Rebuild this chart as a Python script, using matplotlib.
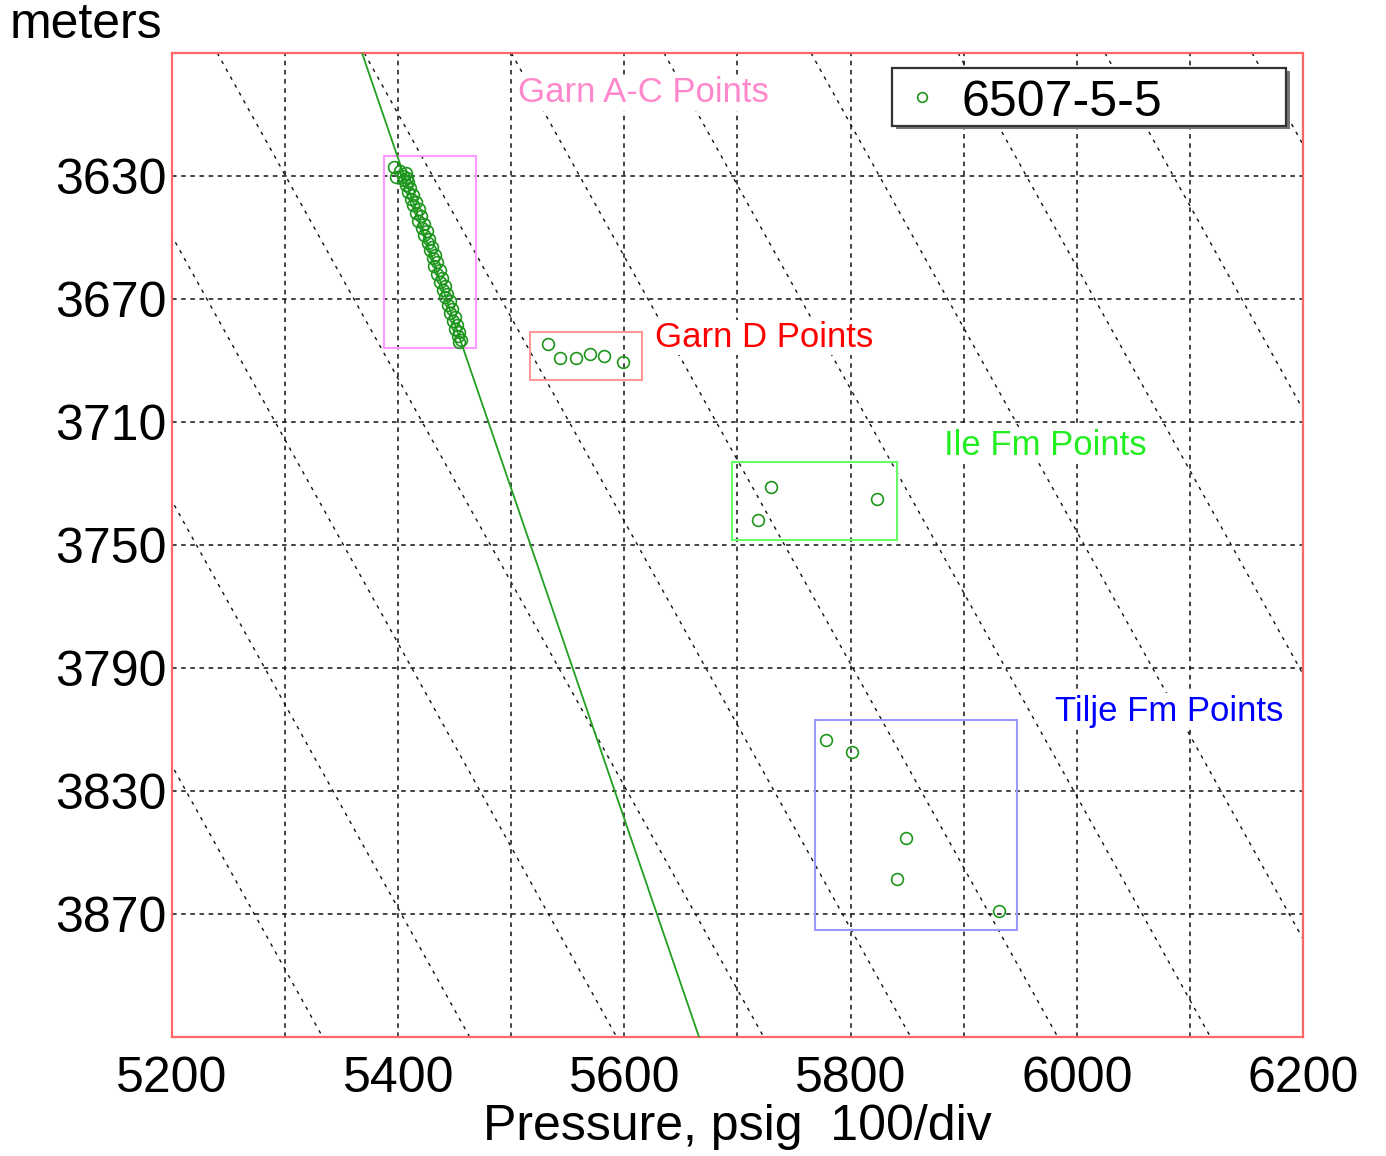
import matplotlib
matplotlib.use("Agg")
import matplotlib.pyplot as plt
from matplotlib.patches import Rectangle

plt.rcParams['font.family'] = ['Liberation Sans', 'DejaVu Sans']

# Garn A-C formation points (pressure psig, depth m)
garn_ac_p = [5396.5, 5398.0, 5402.0, 5406.5, 5404.0, 5408.2, 5405.5, 5409.0, 5407.0, 5410.8,
             5409.0, 5413.5, 5411.0, 5415.8, 5413.2, 5418.5, 5416.0, 5420.4, 5417.6, 5423.0,
             5421.2, 5425.5, 5422.4, 5427.6, 5426.0, 5430.2, 5428.1, 5432.5, 5430.4, 5434.6,
             5432.0, 5436.9, 5434.7, 5439.0, 5437.2, 5441.4, 5439.6, 5443.5, 5441.8, 5445.9,
             5444.0, 5447.8, 5446.0, 5450.1, 5448.7, 5452.0, 5450.5, 5453.8, 5452.6, 5455.4, 5454.0]
garn_ac_d = [3627.0, 3630.5, 3628.5, 3629.2, 3630.0, 3630.6, 3631.3, 3632.0, 3633.1, 3634.0,
             3635.2, 3636.1, 3637.4, 3638.5, 3639.6, 3640.8, 3642.0, 3643.1, 3644.5, 3645.6,
             3646.9, 3648.0, 3649.3, 3650.5, 3651.8, 3653.0, 3654.2, 3655.6, 3656.8, 3658.1,
             3659.3, 3660.6, 3661.9, 3663.2, 3664.4, 3665.7, 3667.0, 3668.3, 3669.5, 3670.8,
             3672.1, 3673.4, 3674.6, 3675.9, 3677.2, 3678.5, 3679.7, 3680.9, 3682.0, 3683.2, 3684.0]

garn_d_p = [5532.4, 5543.0, 5557.0, 5569.6, 5582.0, 5598.8]
garn_d_d = [3684.6, 3689.2, 3689.2, 3687.9, 3688.5, 3690.5]

ile_p = [5729.6, 5718.0, 5823.3]
ile_d = [3731.1, 3741.9, 3735.0]

tilje_p = [5778.3, 5801.2, 5849.0, 5841.0, 5931.2]
tilje_d = [3813.4, 3817.3, 3845.3, 3858.6, 3869.0]

# fitted gradient line through Garn A-C (psig at top / bottom of plot)
fit_p = [5368, 5666]
fit_d = [3590, 3910]

# water gradient reference lines: pressure at 3590 m, gradient psi/m
ref_p0 = [4850, 4980, 5110, 5240, 5370, 5500, 5635, 5765, 5895, 6025, 6155]
ref_grad = 1.51
ref_d = [3590, 3910]

# zone boxes: (p_min, p_max, d_min, d_max)
box_names = ["Garn A-C Points", "Garn D Points", "Ile Fm Points", "Tilje Fm Points"]
box_p = [(5387.4, 5468.8), (5516.5, 5615.6), (5695.0, 5841.0), (5768.5, 5947.1)]
box_d = [(3623.5, 3686.0), (3680.7, 3696.3), (3723.0, 3748.4), (3807.0, 3875.2)]
box_colors = ["#ff99ff", "#ff9999", "#66ff66", "#9999ff"]
label_colors = ["#ff88cc", "#ff0000", "#22ee22", "#0000ff"]
label_p = [5506, 5627, 5883, 5981]
label_d = [3603.0, 3682.5, 3717.5, 3804.0]

well_name = "6507-5-5"

fig = plt.figure(figsize=(13.86, 11.56), dpi=100)
ax = fig.add_axes([0.1241, 0.1029, 0.8160, 0.8513])

for p0 in ref_p0:
    ax.plot([p0, p0 + ref_grad * (ref_d[1] - ref_d[0])], ref_d, color='#111111',
            lw=1.0, linestyle=(0, (2.5, 4)), zorder=1)

ax.plot(fit_p, fit_d, color='#22a022', lw=1.3, zorder=3)

for (p1, p2), (d1, d2), c in zip(box_p, box_d, box_colors):
    ax.add_patch(Rectangle((p1, d1), p2 - p1, d2 - d1, fill=False, edgecolor=c, lw=1.5, zorder=2))

all_p = garn_ac_p + garn_d_p + ile_p + tilje_p
all_d = garn_ac_d + garn_d_d + ile_d + tilje_d
ax.plot(all_p, all_d, 'o', mfc='none', mec='#1e961e', ms=8.5, mew=1.2, zorder=4)

for name, c, x, y in zip(box_names, label_colors, label_p, label_d):
    ax.text(x, y, name, color=c, fontsize=25, va='center', ha='left', zorder=5,
            bbox=dict(facecolor='white', edgecolor='none', pad=1))

ax.set_xlim(5200, 6200)
ax.set_ylim(3910, 3590)
ax.set_xticks(range(5200, 6201, 200))
ax.set_xticks(range(5300, 6200, 200), minor=True)
ax.set_yticks(range(3630, 3871, 40))
ax.tick_params(axis='both', which='both', length=0, labelsize=36)
ax.tick_params(axis='x', pad=14)
ax.tick_params(axis='y', pad=4)
ax.grid(True, which='both', color='#111111', lw=1.1, linestyle=(0, (3, 3)), zorder=0)
ax.set_axisbelow(True)
for s in ax.spines.values():
    s.set_color('#ff6666')
    s.set_linewidth(1.6)

# legend box drawn in axes coordinates
ax.add_patch(Rectangle((0.6400, 0.9230), 0.3485, 0.0590, transform=ax.transAxes,
                       facecolor='#777777', edgecolor='none', zorder=6))
ax.add_patch(Rectangle((0.6366, 0.9258), 0.3485, 0.0590, transform=ax.transAxes,
                       facecolor='white', edgecolor='#333333', lw=1.6, zorder=7))
ax.plot([0.6631], [0.9553], 'o', mfc='none', mec='#1e961e', ms=7, mew=1.2,
        transform=ax.transAxes, zorder=8)
ax.text(0.6985, 0.9543, well_name, transform=ax.transAxes, fontsize=36,
        ha='left', va='center_baseline', zorder=8)

fig.text(0.0072, 0.978, "meters", fontsize=36, ha='left', va='center')
fig.text(0.532, 0.025, "Pressure, psig  100/div", fontsize=36, ha='center', va='center')

fig.savefig("out.png", dpi=100)
